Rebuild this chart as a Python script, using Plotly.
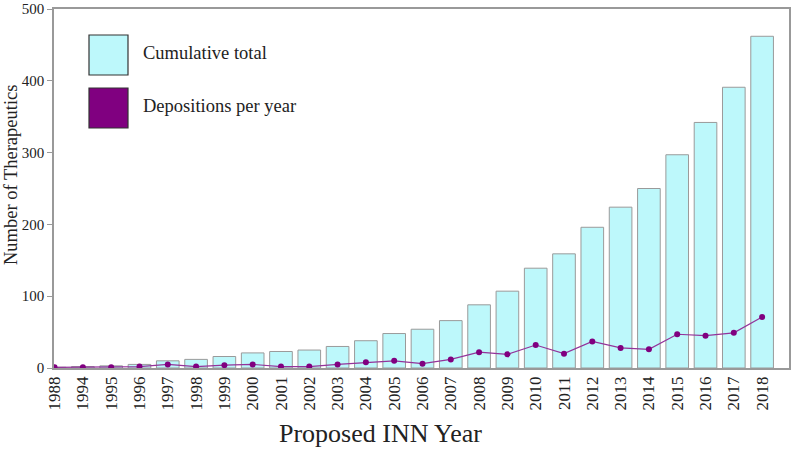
import plotly.graph_objects as go

years = ["1988", "1994", "1995", "1996", "1997", "1998", "1999", "2000", "2001", "2002",
         "2003", "2004", "2005", "2006", "2007", "2008", "2009", "2010", "2011", "2012",
         "2013", "2014", "2015", "2016", "2017", "2018"]
cumulative = [1, 2, 3, 5, 10, 12, 16, 21, 23, 25, 30, 38, 48, 54, 66, 88, 107, 139, 159, 196,
              224, 250, 297, 342, 391, 462]
per_year = [1, 1, 1, 2, 5, 2, 4, 5, 2, 2, 5, 8, 10, 6, 12, 22, 19, 32, 20, 37,
            28, 26, 47, 45, 49, 71]
y_ticks = [0, 100, 200, 300, 400, 500]

FONT = "Liberation Serif"
CYAN = "#BDF8FB"
PURPLE = "#800080"
W, H = 795, 450
L, R, T, B = 54, 6, 9, 82
PW, PH = W - L - R, H - T - B


def px(x):
    return (x - L) / PW


def py(y):
    return 1 - (y - T) / PH


fig = go.Figure()
fig.add_trace(go.Bar(x=years, y=cumulative, name="Cumulative total", width=0.8,
                     marker=dict(color=CYAN, line=dict(color="#9a9a9a", width=1)),
                     showlegend=False))
fig.add_trace(go.Scatter(x=years, y=per_year, name="Depositions per year", mode="lines+markers",
                         line=dict(color="#93339a", width=1.2),
                         marker=dict(color=PURPLE, size=6),
                         showlegend=False))

# Legend drawn as boxes + text
legend_items = [("Cumulative total", CYAN), ("Depositions per year", PURPLE)]
for i, (label, col) in enumerate(legend_items):
    y0 = 35 + i * 53
    fig.add_shape(type="rect", xref="paper", yref="paper",
                  x0=px(89), x1=px(128), y0=py(y0 + 40), y1=py(y0),
                  fillcolor=col, line=dict(color="#333333", width=1.2))
    fig.add_annotation(xref="paper", yref="paper", x=px(141), y=py(y0 + 18),
                       text=label, showarrow=False, xanchor="left", yanchor="middle",
                       font=dict(family=FONT, size=18.5, color="#222222"))

# Axis titles
fig.add_annotation(xref="paper", yref="paper", x=px(380), y=py(433),
                   text="Proposed INN Year", showarrow=False,
                   xanchor="center", yanchor="middle",
                   font=dict(family=FONT, size=26, color="#222222"))
fig.add_annotation(xref="paper", yref="paper", x=px(11), y=py(175),
                   text="Number of Therapeutics", showarrow=False, textangle=-90,
                   xanchor="center", yanchor="middle",
                   font=dict(family=FONT, size=18.5, color="#222222"))

fig.update_layout(
    width=W, height=H,
    margin=dict(l=L, r=R, t=T, b=B),
    plot_bgcolor="white", paper_bgcolor="white",
    font=dict(family=FONT, size=15, color="#222222"),
    bargap=0.2,
    xaxis=dict(
        type="category", range=[-0.02, 25.95], tickangle=-90, automargin=False,
        showline=True, linecolor="#999999", linewidth=1.5, mirror=True,
        ticks="", showgrid=False, tickfont=dict(size=17, color="#222222"),
    ),
    yaxis=dict(
        range=[0, 500], tickvals=y_ticks, automargin=False,
        showline=True, linecolor="#999999", linewidth=1.5, mirror=True,
        ticks="outside", ticklen=5, tickcolor="#999999", showgrid=False, zeroline=False,
        tickfont=dict(size=15, color="#222222"),
    ),
)

fig.write_html("out.html", config={"displayModeBar": False},
               post_script="document.body.style.margin='0';")
